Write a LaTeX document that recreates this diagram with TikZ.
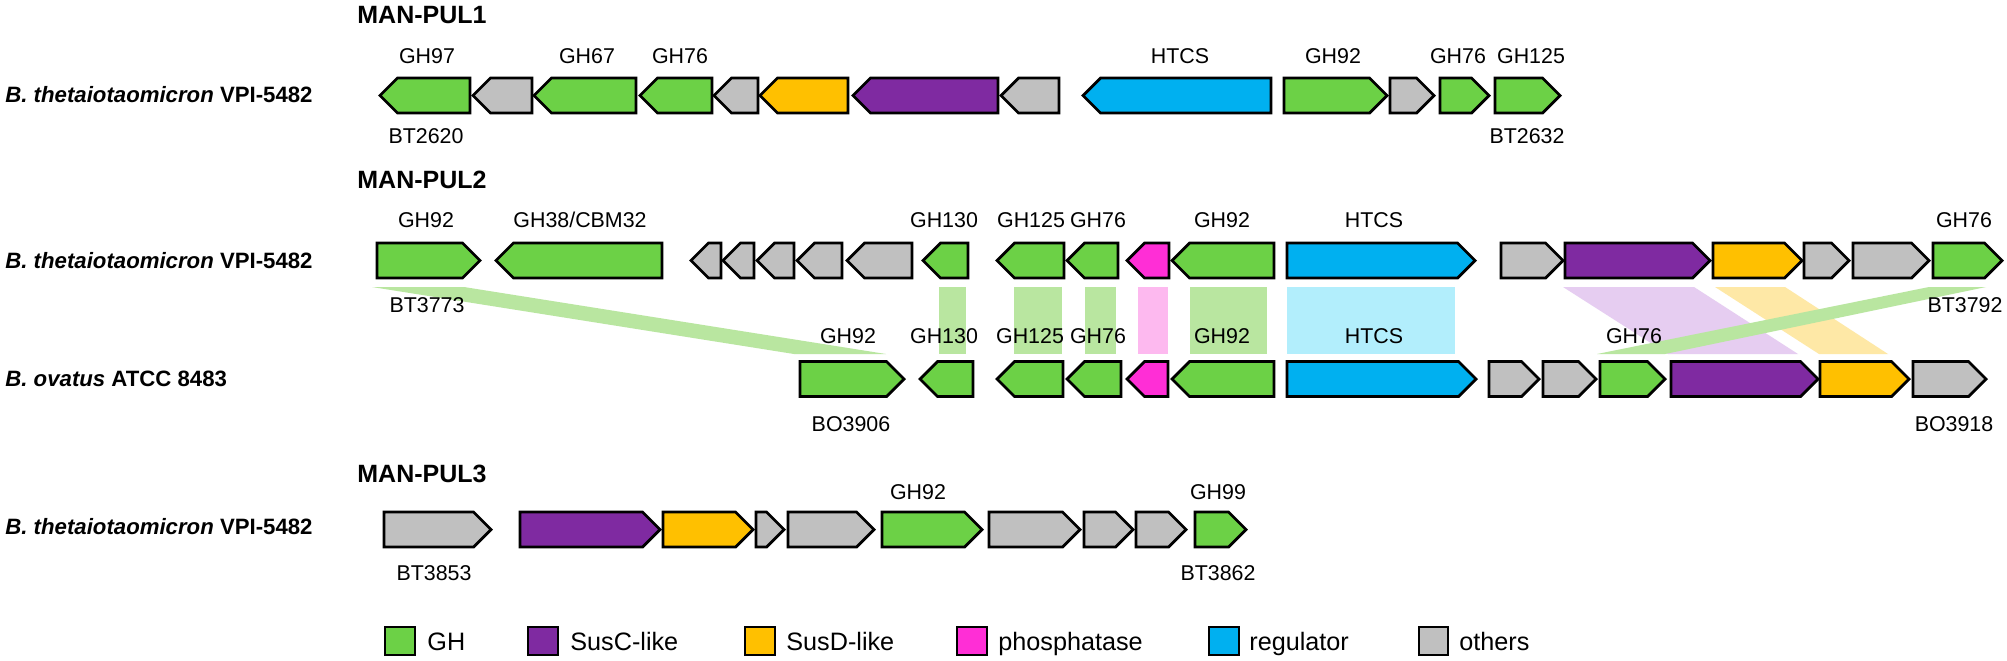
\documentclass[tikz,border=0pt]{standalone}
\usepackage{fontspec}
\setmainfont{Liberation Sans}
\definecolor{cgh}{HTML}{6CD146}
\definecolor{cgray}{HTML}{C0C0C0}
\definecolor{csusc}{HTML}{7F2AA1}
\definecolor{csusd}{HTML}{FFC000}
\definecolor{cpho}{HTML}{FF2ED6}
\definecolor{creg}{HTML}{00B0F0}
\definecolor{bgh}{HTML}{B9E6A0}
\definecolor{bpho}{HTML}{FDB9EF}
\definecolor{breg}{HTML}{B2EEFC}
\definecolor{bsusc}{HTML}{E6CDF1}
\definecolor{bsusd}{HTML}{FEE8A6}
\tikzset{
  gene/.style={draw=black, line width=1.4pt, line join=miter},
  lab/.style={font=\fontsize{10.7}{12}\selectfont, inner sep=0pt, anchor=base},
  spec/.style={font=\fontsize{11.1}{13}\selectfont\bfseries, inner sep=0pt, anchor=base west},
  tit/.style={font=\fontsize{12.5}{14}\selectfont\bfseries, inner sep=0pt, anchor=base west},
  legt/.style={font=\fontsize{12.6}{14}\selectfont, inner sep=0pt, anchor=base west},
  legbox/.style={draw=black, line width=1.4pt}
}
% right-pointing gene: x1, x2, yc, colour
\newcommand{\gR}[4]{\draw[gene,fill=#4] (#1,{#3-17.5}) -- ({#2-17.5},{#3-17.5}) -- (#2,#3) -- ({#2-17.5},{#3+17.5}) -- (#1,{#3+17.5}) -- cycle;}
% left-pointing gene
\newcommand{\gL}[4]{\draw[gene,fill=#4] (#2,{#3-17.5}) -- ({#1+17.5},{#3-17.5}) -- (#1,#3) -- ({#1+17.5},{#3+17.5}) -- (#2,{#3+17.5}) -- cycle;}
\begin{document}
\begin{tikzpicture}[x=0.5pt,y=-0.5pt]
\fill[white] (0,0) rectangle (2007,660);
\useasboundingbox (0,0) rectangle (2007,660);

% ---------- titles and species ----------
\node[tit] (t1) at (357,23) {MAN-PUL1};
\node[tit] (t2) at (357,188) {MAN-PUL2};
\node[tit] (t3) at (357,482) {MAN-PUL3};
\node[spec] (s1) at (5,102) {\itshape B. thetaiotaomicron\upshape{} VPI-5482};
\node[spec] (s2) at (5,268) {\itshape B. thetaiotaomicron\upshape{} VPI-5482};
\node[spec] (s3) at (5,386) {\itshape B. ovatus\upshape{} ATCC 8483};
\node[spec] (s4) at (5,534) {\itshape B. thetaiotaomicron\upshape{} VPI-5482};

% ---------- homology bands ----------
\fill[bgh] (372,287) -- (464,287) -- (886,354) -- (794,354) -- cycle;
\fill[bgh] (939,287) rectangle (966,354);
\fill[bgh] (1014,287) rectangle (1062,354);
\fill[bgh] (1085,287) rectangle (1116,354);
\fill[bpho] (1138,287) rectangle (1168,354);
\fill[bgh] (1190,287) rectangle (1267,354);
\fill[breg] (1287,287) rectangle (1455,354);
\fill[bsusc] (1563,287) -- (1694,287) -- (1798,354) -- (1668,354) -- cycle;
\fill[bsusd] (1715,287) -- (1785,287) -- (1888,354) -- (1819,354) -- cycle;
\fill[bgh] (1929,287) -- (1986,287) -- (1665,354) -- (1597,354) -- cycle;

% ---------- MAN-PUL1 ----------
\gL{380}{470}{95.5}{cgh}
\gL{473}{532}{95.5}{cgray}
\gL{534}{636}{95.5}{cgh}
\gL{640}{712}{95.5}{cgh}
\gL{714}{758}{95.5}{cgray}
\gL{760}{848}{95.5}{csusd}
\gL{853}{998}{95.5}{csusc}
\gL{1001}{1059}{95.5}{cgray}
\gL{1083}{1271}{95.5}{creg}
\gR{1284}{1387}{95.5}{cgh}
\gR{1390}{1434}{95.5}{cgray}
\gR{1440}{1489}{95.5}{cgh}
\gR{1495}{1560}{95.5}{cgh}
\node[lab] (a1) at (427,63) {GH97};
\node[lab] (a2) at (587,63) {GH67};
\node[lab] (a3) at (680,63) {GH76};
\node[lab] (a4) at (1180,63) {HTCS};
\node[lab] (a5) at (1333,63) {GH92};
\node[lab] (a6) at (1458,63) {GH76};
\node[lab] (a7) at (1531,63) {GH125};
\node[lab] (a8) at (426,143) {BT2620};
\node[lab] (a9) at (1527,143) {BT2632};

% ---------- MAN-PUL2, B. theta ----------
\gR{377}{480}{260.5}{cgh}
\gL{496}{662}{260.5}{cgh}
\gL{691}{721}{260.5}{cgray}
\gL{723}{754}{260.5}{cgray}
\gL{757}{794}{260.5}{cgray}
\gL{797}{842}{260.5}{cgray}
\gL{847}{912}{260.5}{cgray}
\gL{923}{968}{260.5}{cgh}
\gL{997}{1064}{260.5}{cgh}
\gL{1067}{1118}{260.5}{cgh}
\gL{1127}{1169}{260.5}{cpho}
\gL{1172}{1274}{260.5}{cgh}
\gR{1287}{1475}{260.5}{creg}
\gR{1501}{1563}{260.5}{cgray}
\gR{1565}{1710}{260.5}{csusc}
\gR{1713}{1802}{260.5}{csusd}
\gR{1804}{1849}{260.5}{cgray}
\gR{1853}{1929}{260.5}{cgray}
\gR{1933}{2002}{260.5}{cgh}
\node[lab] (b1) at (426,227) {GH92};
\node[lab] (b2) at (580,227) {GH38/CBM32};
\node[lab] (b3) at (944,227) {GH130};
\node[lab] (b4) at (1031,227) {GH125};
\node[lab] (b5) at (1098,227) {GH76};
\node[lab] (b6) at (1222,227) {GH92};
\node[lab] (b7) at (1374,227) {HTCS};
\node[lab] (b8) at (1964,227) {GH76};
\node[lab] (b9) at (427,312) {BT3773};
\node[lab] (b10) at (1965,312) {BT3792};

% ---------- MAN-PUL2, B. ovatus ----------
\gR{800}{904}{379}{cgh}
\gL{920}{973}{379}{cgh}
\gL{997}{1063}{379}{cgh}
\gL{1067}{1121}{379}{cgh}
\gL{1127}{1168}{379}{cpho}
\gL{1172}{1274}{379}{cgh}
\gR{1287}{1476}{379}{creg}
\gR{1489}{1539}{379}{cgray}
\gR{1543}{1596}{379}{cgray}
\gR{1600}{1665}{379}{cgh}
\gR{1671}{1818}{379}{csusc}
\gR{1820}{1909}{379}{csusd}
\gR{1913}{1986}{379}{cgray}
\node[lab] (c1) at (848,343) {GH92};
\node[lab] (c2) at (944,343) {GH130};
\node[lab] (c3) at (1030,343) {GH125};
\node[lab] (c4) at (1098,343) {GH76};
\node[lab] (c5) at (1222,343) {GH92};
\node[lab] (c6) at (1374,343) {HTCS};
\node[lab] (c7) at (1634,343) {GH76};
\node[lab] (c8) at (851,431) {BO3906};
\node[lab] (c9) at (1954,431) {BO3918};

% ---------- MAN-PUL3 ----------
\gR{384}{491}{529.5}{cgray}
\gR{520}{660}{529.5}{csusc}
\gR{663}{753}{529.5}{csusd}
\gR{756}{784}{529.5}{cgray}
\gR{788}{874}{529.5}{cgray}
\gR{882}{982}{529.5}{cgh}
\gR{989}{1080}{529.5}{cgray}
\gR{1084}{1133}{529.5}{cgray}
\gR{1136}{1186}{529.5}{cgray}
\gR{1195}{1246}{529.5}{cgh}
\node[lab] (d1) at (918,499) {GH92};
\node[lab] (d2) at (1218,499) {GH99};
\node[lab] (d3) at (434,580) {BT3853};
\node[lab] (d4) at (1218,580) {BT3862};

% ---------- legend ----------
\draw[legbox,fill=cgh] (385,627) rectangle (415,655);
\node[legt] (l1) at (427,650) {GH};
\draw[legbox,fill=csusc] (528,627) rectangle (558,655);
\node[legt] (l2) at (570,650) {SusC-like};
\draw[legbox,fill=csusd] (745,627) rectangle (775,655);
\node[legt] (l3) at (786,650) {SusD-like};
\draw[legbox,fill=cpho] (957,627) rectangle (987,655);
\node[legt] (l4) at (998,650) {phosphatase};
\draw[legbox,fill=creg] (1209,627) rectangle (1239,655);
\node[legt] (l5) at (1249,650) {regulator};
\draw[legbox,fill=cgray] (1419,627) rectangle (1448,655);
\node[legt] (l6) at (1459,650) {others};
\end{tikzpicture}
\end{document}
